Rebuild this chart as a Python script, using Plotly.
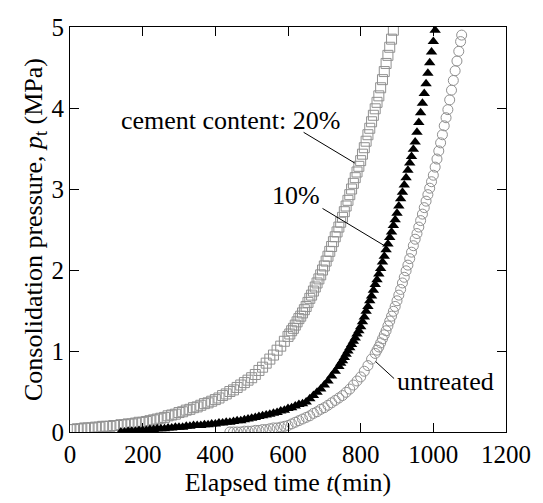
import plotly.graph_objects as go

# ---- data ----
t20 = [0,10,20,30,40,50,60,70,80,90,100,110,120,130,140,150,160,170,180,190,200,210,220,230,240,250,260,270,280,290,
       300,310,320,330,340,350,360,370,380,390,400,410,420,430,440,450,460,470,480,490,500,510,520,530,540,550,560,570,580,590,
       600,605,610,615,620,625,630,635,640,645,650,655,660,665,670,675,680,685,690,695,700,705,710,715,720,725,730,735,740,745,
       750,755,760,765,770,775,780,785,790,795,800,805,810,815,820,825,830,835,840,845,850,855,860,865,870,875,880,885,890]
p20 = [0.03,0.03,0.04,0.04,0.05,0.05,0.05,0.06,0.06,0.07,0.07,0.07,0.08,0.08,0.09,0.09,0.10,0.10,0.11,0.12,0.12,0.13,0.14,0.15,0.16,0.17,0.18,0.20,0.21,0.22,
       0.24,0.25,0.27,0.28,0.30,0.31,0.33,0.35,0.36,0.38,0.40,0.42,0.45,0.47,0.50,0.52,0.55,0.58,0.61,0.64,0.67,0.71,0.76,0.80,0.85,0.90,0.95,1.01,1.06,1.12,
       1.18,1.21,1.25,1.28,1.32,1.36,1.40,1.43,1.47,1.51,1.55,1.60,1.65,1.69,1.74,1.79,1.84,1.89,1.94,2.00,2.05,2.11,2.17,2.23,2.29,2.35,2.41,2.47,2.53,2.59,
       2.65,2.72,2.79,2.86,2.93,3.00,3.07,3.14,3.21,3.28,3.35,3.43,3.51,3.59,3.67,3.75,3.83,3.91,3.99,4.07,4.15,4.25,4.35,4.45,4.55,4.65,4.75,4.85,4.96]

t10 = [140,150,160,170,180,190,200,210,220,230,240,250,260,270,280,290,300,310,320,330,340,350,360,370,380,390,400,410,420,430,440,
       450,460,470,480,490,500,510,520,530,540,550,560,570,580,590,600,610,620,630,640,650,660,670,680,690,700,710,720,730,740,
       745,750,755,760,765,770,775,780,785,790,795,800,805,810,815,820,825,830,835,840,845,850,855,860,865,870,875,880,885,890,895,
       900,905,910,915,920,925,930,935,940,945,950,955,960,965,970,975,980,985,990,995,1000,1005]
p10 = [0.00,0.00,0.01,0.01,0.01,0.02,0.02,0.02,0.03,0.03,0.04,0.04,0.04,0.05,0.05,0.06,0.06,0.06,0.07,0.07,0.08,0.08,0.08,0.09,0.09,0.10,0.10,0.11,0.11,0.12,0.12,
       0.13,0.14,0.14,0.15,0.16,0.17,0.18,0.19,0.20,0.21,0.22,0.23,0.24,0.26,0.27,0.29,0.30,0.32,0.34,0.35,0.37,0.41,0.45,0.49,0.53,0.58,0.63,0.69,0.75,0.81,
       0.85,0.88,0.92,0.96,1.00,1.04,1.08,1.12,1.16,1.21,1.25,1.30,1.36,1.42,1.49,1.55,1.62,1.68,1.75,1.82,1.88,1.95,2.02,2.10,2.17,2.25,2.32,2.40,2.47,2.55,2.62,
       2.70,2.79,2.88,2.96,3.05,3.14,3.23,3.32,3.40,3.49,3.58,3.70,3.82,3.94,4.06,4.18,4.30,4.43,4.56,4.69,4.82,4.96]

t00 = [440,450,460,470,480,490,500,510,520,530,540,550,560,570,580,590,600,610,620,630,640,650,660,670,680,690,700,710,720,730,740,
       750,760,770,780,790,800,810,820,830,840,
       845,850,855,860,865,870,875,880,885,890,895,900,905,910,915,920,925,930,935,940,945,950,955,960,965,970,975,980,985,990,995,
       1000,1005,1010,1015,1020,1025,1030,1035,1040,1045,1050,1055,1060,1065,1070,1075,1078]
p00 = [0.00,0.00,0.00,0.00,0.01,0.01,0.01,0.02,0.02,0.03,0.03,0.04,0.05,0.05,0.06,0.07,0.08,0.10,0.12,0.14,0.16,0.18,0.20,0.23,0.25,0.28,0.30,0.33,0.36,0.39,0.42,
       0.45,0.49,0.53,0.58,0.63,0.68,0.75,0.82,0.90,0.97,
       1.01,1.05,1.10,1.15,1.20,1.25,1.31,1.37,1.43,1.49,1.55,1.62,1.69,1.76,1.84,1.91,1.99,2.06,2.14,2.22,2.30,2.38,2.45,2.53,2.61,2.69,2.77,2.85,2.93,3.01,3.09,
       3.17,3.27,3.37,3.47,3.57,3.67,3.78,3.88,3.98,4.10,4.22,4.34,4.46,4.58,4.70,4.82,4.90]

x_ticks = [0, 200, 400, 600, 800, 1000, 1200]
y_ticks = [0, 1, 2, 3, 4, 5]

FONT = "Liberation Serif"

fig = go.Figure()
fig.add_trace(go.Scatter(x=t20, y=p20, mode="markers", name="cement content: 20%", cliponaxis=True,
                         marker=dict(symbol="square-open", size=10, color="#909090", line=dict(width=1))))
fig.add_trace(go.Scatter(x=t00, y=p00, mode="markers", name="untreated", cliponaxis=True,
                         marker=dict(symbol="circle-open", size=10, color="#909090", line=dict(width=1))))
fig.add_trace(go.Scatter(x=t10, y=p10, mode="markers", name="10%", cliponaxis=True,
                         marker=dict(symbol="triangle-up", size=10, color="black", line=dict(width=0))))

ann_font = dict(family=FONT, size=26, color="black")
fig.add_annotation(x=443, y=3.85, text="cement content: 20%", showarrow=False, font=ann_font)
fig.add_annotation(x=622, y=2.92, text="10%", showarrow=False, font=ann_font)
fig.add_annotation(x=1034, y=0.62, text="untreated", showarrow=False, font=ann_font)

for (x0, y0, x1, y1) in [(643, 3.70, 784, 3.32), (695, 2.76, 873, 2.28), (892, 0.66, 841, 0.87)]:
    fig.add_shape(type="line", x0=x0, y0=y0, x1=x1, y1=y1, xref="x", yref="y",
                  line=dict(color="black", width=1))

fig.update_layout(
    width=543, height=503,
    margin=dict(l=70, r=29, t=27, b=71),
    paper_bgcolor="white", plot_bgcolor="white",
    showlegend=False,
    font=dict(family=FONT, size=26, color="black"),
)
fig.update_xaxes(range=[0, 1200], tickvals=x_ticks, ticks="inside", ticklen=9, tickcolor="black",
                 showline=True, linecolor="black", linewidth=1, mirror="ticks", showgrid=False, zeroline=False,
                 tickfont=dict(family=FONT, size=25),
                 title=dict(text="Elapsed time <i>t</i>(min)", font=dict(family=FONT, size=26), standoff=4))
fig.update_yaxes(range=[0, 5], tickvals=y_ticks, ticks="inside", ticklen=9, tickcolor="black",
                 showline=True, linecolor="black", linewidth=1, mirror="ticks", showgrid=False, zeroline=False,
                 tickfont=dict(family=FONT, size=25),
                 title=dict(text="Consolidation pressure, <i>p</i><sub>t</sub> (MPa)", font=dict(family=FONT, size=26), standoff=0))

fig.write_html("out.html")
